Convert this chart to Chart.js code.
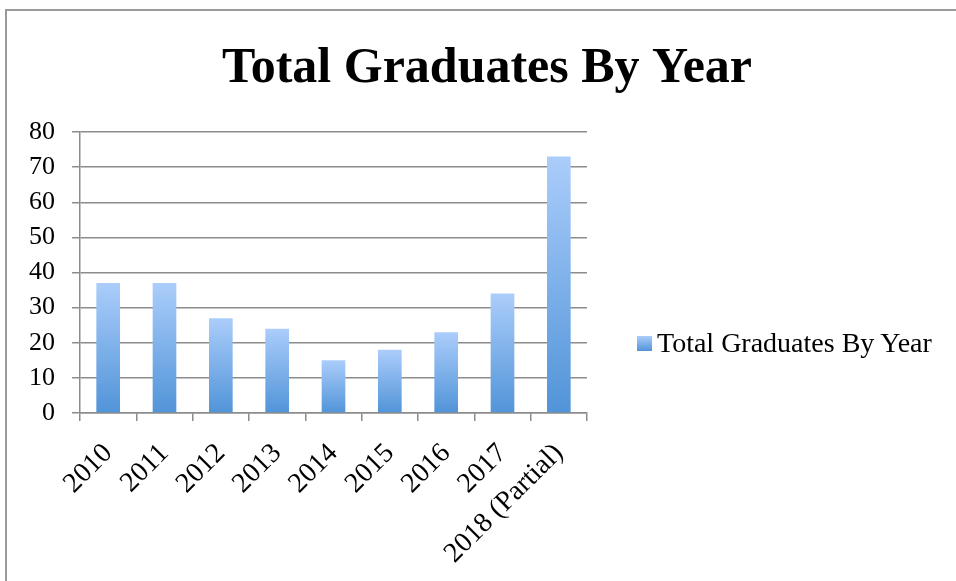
<!DOCTYPE html>
<html>
<head>
<meta charset="utf-8">
<script src="https://cdn.jsdelivr.net/npm/chart.js@4/dist/chart.umd.min.js"></script>
<style>
    html, body { margin: 0; padding: 0; background: #fff; overflow: hidden; }
    #wrap { position: relative; width: 956px; height: 581px; }
    #frame { position: absolute; left: 5px; top: 9px; width: 1000px; height: 700px; border: 2px solid #9a9a9a; box-sizing: border-box; }
    canvas { position: absolute; left: 0; top: 0; }
    #legend { position: absolute; left: 637px; top: 327px; font-family: 'Liberation Serif', serif; font-size: 28px; color: #000; }
    #legend ul { list-style: none; margin: 0; padding: 0; }
    #legend li { display: flex; align-items: center; white-space: nowrap; }
    #legend .box { display: inline-block; width: 15px; height: 15px; margin-right: 5px; background: linear-gradient(#abcdfb, #5194d8); }
</style>
</head>
<body>
<div id="wrap">
    <div id="frame"></div>
    <canvas id="grad-chart" width="956" height="581"></canvas>
    <div id="legend"></div>
</div>
<script>
const years = ['2010', '2011', '2012', '2013', '2014', '2015', '2016', '2017', '2018 (Partial)'];
const graduates = [37, 37, 27, 24, 15, 18, 23, 34, 73];
const seriesName = 'Total Graduates By Year';

const FONT = "'Liberation Serif', 'DejaVu Serif', serif";

function barFill(context) {
    const chart = context.chart;
    const y = chart.scales && chart.scales.y;
    if (context.raw === undefined || !y || !chart.chartArea) {
        return '#80b2ea';
    }
    const top = y.getPixelForValue(context.raw);
    const bottom = y.getPixelForValue(0);
    if (!isFinite(top) || !isFinite(bottom) || top === bottom) {
        return '#80b2ea';
    }
    const g = chart.ctx.createLinearGradient(0, top, 0, bottom);
    g.addColorStop(0, '#abcdfb');
    g.addColorStop(1, '#5194d8');
    return g;
}

// html legend, the built-in one gets squeezed on the right side
const htmlLegend = {
    id: 'htmlLegend',
    afterUpdate(chart) {
        const container = document.getElementById('legend');
        container.innerHTML = '';
        const ul = document.createElement('ul');
        chart.options.plugins.legend.labels.generateLabels(chart).forEach(item => {
            const li = document.createElement('li');
            const box = document.createElement('span');
            box.className = 'box';
            const text = document.createElement('span');
            text.textContent = item.text;
            li.appendChild(box);
            li.appendChild(text);
            ul.appendChild(li);
        });
        container.appendChild(ul);
    }
};

const ctx = document.getElementById('grad-chart').getContext('2d');
const gradChart = new Chart(ctx, {
    type: 'bar',
    data: {
        labels: years,
        datasets: [{
            label: seriesName,
            data: graduates,
            backgroundColor: barFill,
            borderWidth: 0,
            barPercentage: 0.42,
            categoryPercentage: 1
        }]
    },
    options: {
        responsive: false,
        animation: false,
        layout: { padding: { left: 29, right: 11, top: 0, bottom: 0 } },
        plugins: {
            title: {
                display: true,
                text: 'Total Graduates By Year',
                color: '#000',
                font: { family: FONT, size: 50, weight: 'bold' },
                padding: { top: 39, bottom: 33 }
            },
            legend: { display: false },
            tooltip: { enabled: false }
        },
        scales: {
            x: {
                grid: {
                    drawOnChartArea: false,
                    drawTicks: true,
                    tickLength: 8,
                    color: '#8c8c8c',
                    lineWidth: 1.5
                },
                border: { color: '#8c8c8c', width: 1.5 },
                ticks: {
                    color: '#000',
                    font: { family: FONT, size: 28 },
                    maxRotation: 45,
                    minRotation: 45,
                    autoSkip: false,
                    padding: 16
                },
                afterFit: function (scale) {
                    scale.height = 168;
                    scale.paddingLeft = 0;
                    scale.paddingRight = 0;
                }
            },
            y: {
                min: 0,
                max: 80,
                grid: {
                    color: '#8c8c8c',
                    lineWidth: 1.5,
                    tickLength: 8
                },
                border: { color: '#8c8c8c', width: 1.5 },
                ticks: {
                    stepSize: 10,
                    color: '#000',
                    font: { family: FONT, size: 26 },
                    padding: 17
                },
                afterFit: function (scale) {
                    scale.width = 51;
                }
            },
            // empty axis that keeps the room on the right for the legend
            gap: {
                type: 'linear',
                position: 'right',
                grid: { display: false },
                border: { display: false },
                ticks: { display: false },
                afterFit: function (scale) {
                    scale.width = 358;
                }
            }
        }
    },
    plugins: [htmlLegend]
});
</script>
</body>
</html>
